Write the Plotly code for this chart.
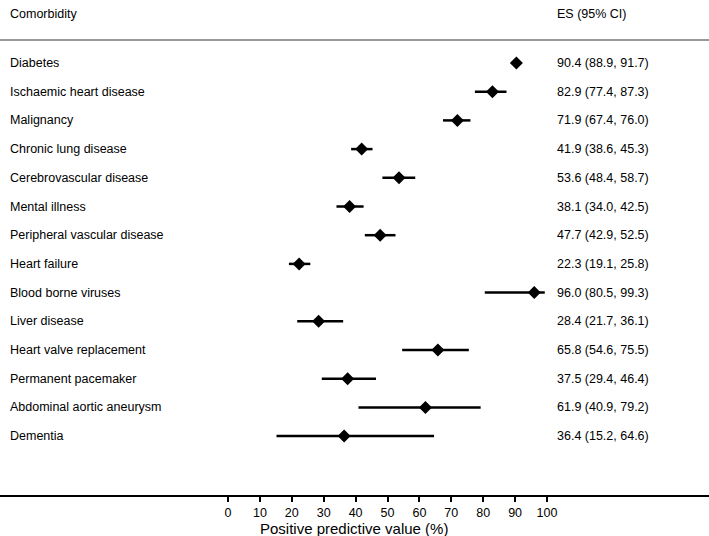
import plotly.graph_objects as go

conditions = ["Diabetes", "Ischaemic heart disease", "Malignancy", "Chronic lung disease",
              "Cerebrovascular disease", "Mental illness", "Peripheral vascular disease",
              "Heart failure", "Blood borne viruses", "Liver disease", "Heart valve replacement",
              "Permanent pacemaker", "Abdominal aortic aneurysm", "Dementia"]
es = [90.4, 82.9, 71.9, 41.9, 53.6, 38.1, 47.7, 22.3, 96.0, 28.4, 65.8, 37.5, 61.9, 36.4]
lo = [88.9, 77.4, 67.4, 38.6, 48.4, 34.0, 42.9, 19.1, 80.5, 21.7, 54.6, 29.4, 40.9, 15.2]
hi = [91.7, 87.3, 76.0, 45.3, 58.7, 42.5, 52.5, 25.8, 99.3, 36.1, 75.5, 46.4, 79.2, 64.6]
tick_vals = [0, 10, 20, 30, 40, 50, 60, 70, 80, 90, 100]

W, H = 709, 536
FONT = "Liberation Sans, Arial, sans-serif"
FS = 12.5
rows = list(range(len(conditions)))

fig = go.Figure()
fig.add_trace(go.Scatter(
    x=es, y=rows, mode="markers",
    marker=dict(symbol="diamond", size=10, color="black"),
    error_x=dict(type="data", symmetric=False,
                 array=[h - e for h, e in zip(hi, es)],
                 arrayminus=[e - l for e, l in zip(es, lo)],
                 color="black", thickness=2.5, width=0),
    showlegend=False, hoverinfo="skip"))

ann = []
for i, (c, e, l, h) in enumerate(zip(conditions, es, lo, hi)):
    ann.append(dict(x=8 / W, xref="paper", y=i, yref="y", text=c, showarrow=False,
                    xanchor="left", yanchor="middle", font=dict(size=FS, color="black", family=FONT)))
    ann.append(dict(x=555 / W, xref="paper", y=i, yref="y",
                    text=f"{e:.1f} ({l:.1f}, {h:.1f})", showarrow=False,
                    xanchor="left", yanchor="middle", font=dict(size=FS, color="black", family=FONT)))

plot_h = 495
ann.append(dict(x=8 / W, xref="paper", y=1 - 14 / plot_h, yref="paper", text="Comorbidity",
                showarrow=False, xanchor="left", yanchor="middle",
                font=dict(size=FS, color="black", family=FONT)))
ann.append(dict(x=555 / W, xref="paper", y=1 - 14 / plot_h, yref="paper", text="ES (95% CI)",
                showarrow=False, xanchor="left", yanchor="middle",
                font=dict(size=FS, color="black", family=FONT)))
ann.append(dict(x=354 / W, xref="paper", y=-(528 - plot_h) / plot_h, yref="paper",
                text="Positive predictive value (%)", showarrow=False,
                xanchor="center", yanchor="middle",
                font=dict(size=15, color="black", family=FONT)))

px_per = (547 - 228) / 100.0
x0 = -228 / px_per
x1 = (W - 228) / px_per
spacing = 28.7
top_row_px = 63
y_top = -top_row_px / spacing
y_bot = (plot_h - top_row_px) / spacing

fig.add_shape(type="line", xref="paper", yref="paper", x0=0, x1=1,
              y0=1 - 40 / plot_h, y1=1 - 40 / plot_h, line=dict(color="#999999", width=2))

fig.update_layout(
    width=W, height=H, margin=dict(l=0, r=0, t=0, b=H - plot_h),
    paper_bgcolor="white", plot_bgcolor="white",
    annotations=ann,
    font=dict(family=FONT, color="black"),
    xaxis=dict(range=[x0, x1], tickvals=tick_vals, ticks="outside", ticklen=5, tickwidth=2,
               tickcolor="black", showline=True, linecolor="black", linewidth=2,
               showgrid=False, zeroline=False, tickfont=dict(size=FS, color="black", family=FONT),
               fixedrange=True),
    yaxis=dict(range=[y_bot, y_top], showticklabels=False, showgrid=False, zeroline=False,
               showline=False, ticks="", fixedrange=True),
)

fig.write_html("out.html", config={"displayModeBar": False},
               post_script="document.body.style.margin='0';document.body.style.overflow='hidden';")
